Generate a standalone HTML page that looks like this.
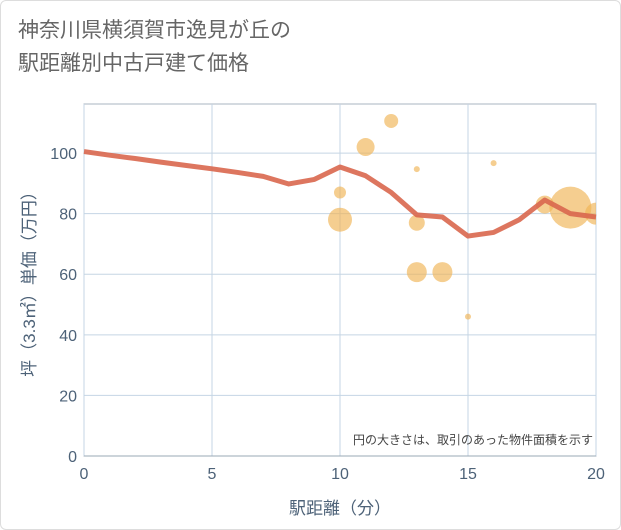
<!DOCTYPE html>
<html><head><meta charset="utf-8"><style>
body{margin:0;background:#fff;font-family:"Liberation Sans","Noto Sans CJK JP",sans-serif;}
#card{position:absolute;left:0;top:0;width:619px;height:528px;border:1px solid #ddd;border-radius:6px;background:#fff;}
#title{position:absolute;left:18px;top:14px;font-size:21px;line-height:33px;color:#666;font-family:"Liberation Sans","Noto Sans CJK JP",sans-serif;}
</style></head><body>
<div id="card"></div>
<div id="title">神奈川県横須賀市逸見が丘の<br>駅距離別中古戸建て価格</div>
<svg id="chart" width="621" height="530" style="position:absolute;left:0;top:0"></svg>
<script>
const xTicks=[0,5,10,15,20];
const yTicks=[0,20,40,60,80,100];
const lineX=[0,1,2,3,4,5,6,7,8,9,10,11,12,13,14,15,16,17,18,19,20];
const lineY=[100.5,99.3,98.2,97,95.9,94.8,93.6,92.3,89.8,91.3,95.4,92.5,87,79.6,78.9,72.6,73.8,78,84.5,80,78.9];
const bubX=[10,10,11,12,13,13,13,14,15,16,18,19,20];
const bubY=[87,78,102,110.6,94.7,77,60.7,60.7,46,96.7,83,82,80];
const bubR=[6,12,9,7,3,8,10,10,3,3,9,21,11];
const L=84,R=596,T=104,B=456,YMAX=116.2;
const TXT='#4d6278';
const sx=v=>L+(v-0)/20*(R-L);
const sy=v=>B-v/YMAX*(B-T);
const svg=document.getElementById('chart');
const NS='http://www.w3.org/2000/svg';
function mk(t,a){const e=document.createElementNS(NS,t);for(const k in a)e.setAttribute(k,a[k]);svg.appendChild(e);return e;}
let e=mk('rect',{x:L,y:T,width:R-L,height:B-T,fill:'#fff',stroke:'#aab4c0','stroke-width':1});


xTicks.forEach(v=>{
 const g=mk('line',{x1:sx(v),x2:sx(v),y1:T,y2:B,stroke:'#c5d5e4','stroke-width':1});
 
 
 const t=mk('text',{x:sx(v),y:B+23,'text-anchor':'middle','font-size':16,fill:TXT});
 t.textContent=v;
 
 
});
yTicks.forEach(v=>{
 const g=mk('line',{x1:L,x2:R,y1:sy(v),y2:sy(v),stroke:'#c5d5e4','stroke-width':1});
 
 
 const t=mk('text',{x:L-7,y:sy(v)+6,'text-anchor':'end','font-size':16,fill:TXT});
 t.textContent=v;
 
 
});
mk('line',{x1:L,x2:R,y1:B,y2:B,stroke:'#9aa8b6','stroke-width':1});
const clip=mk('clipPath',{id:'pc'});
const cr=document.createElementNS(NS,'rect');cr.setAttribute('x',L);cr.setAttribute('y',T);cr.setAttribute('width',R-L);cr.setAttribute('height',B-T);clip.appendChild(cr);
bubX.forEach((x,i)=>{
 const c=mk('circle',{cx:sx(x),cy:sy(bubY[i]),r:bubR[i],fill:'#f0b455','fill-opacity':0.65,'clip-path':'url(#pc)'});
 
 
});
const p=mk('polyline',{points:lineX.map((x,i)=>sx(x)+','+sy(lineY[i])).join(' '),fill:'none',stroke:'#d9674e','stroke-width':5,'stroke-linejoin':'round','stroke-opacity':0.9});


const n=mk('text',{x:R-3,y:B-12,'text-anchor':'end','font-size':12,fill:'#444'});
n.textContent='円の大きさは、取引のあった物件面積を示す';


const xt=mk('text',{x:(L+R)/2,y:B+58,'text-anchor':'middle','font-size':17,fill:TXT});
xt.textContent='駅距離（分）';


const yt=mk('text',{x:0,y:0,'text-anchor':'middle','font-size':17,fill:TXT,transform:`translate(35,${(T+B)/2}) rotate(-90)`});
yt.textContent='坪（3.3㎡）単価（万円）';


</script>
</body></html>
